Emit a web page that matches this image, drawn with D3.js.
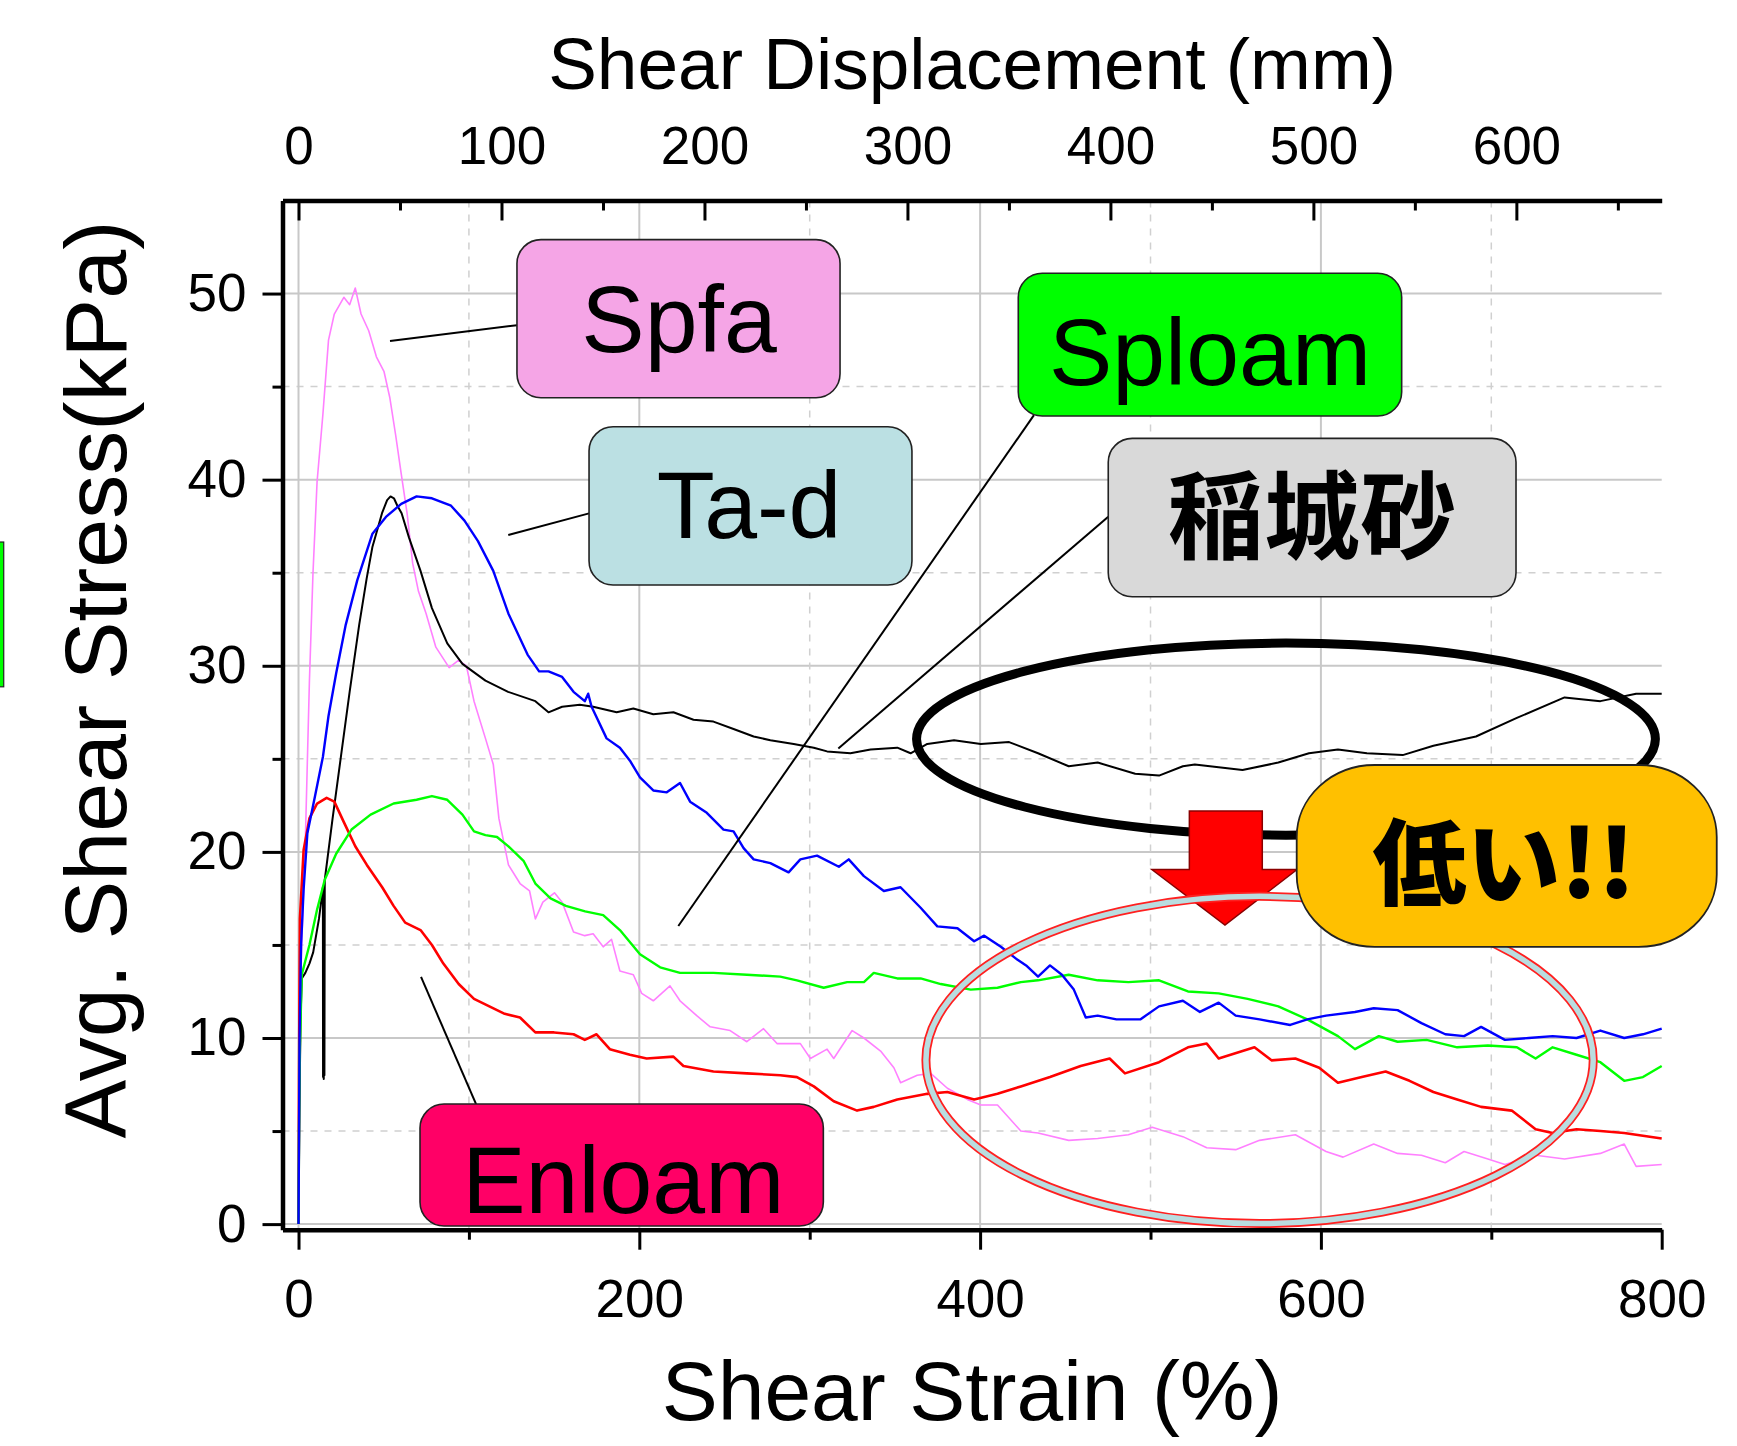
<!DOCTYPE html>
<html lang="ja">
<head>
<meta charset="UTF-8">
<title>Avg. Shear Stress vs Shear Strain</title>
<script src="https://cdnjs.cloudflare.com/ajax/libs/d3/7.8.5/d3.min.js"></script>
<style>
    body { margin: 0; background: #fff; }
    svg { display: block; font-family: "Liberation Sans", Arial, sans-serif; }
    .grid-major { stroke: #c8c8c8; stroke-width: 2; }
    .grid-minor { stroke: #d0d0d0; stroke-width: 1.5; stroke-dasharray: 7 7; }
    .axis path.domain { stroke: #000; stroke-width: 4.5; }
    .axis line { stroke: #000; stroke-width: 3; }
    .axis text { font-size: 53px; fill: #000; font-family: "Liberation Sans", Arial, sans-serif; }
    .series { fill: none; stroke-linejoin: round; }
    .box rect { stroke: #222; stroke-width: 1.6; }
    .box text { font-size: 95px; text-anchor: middle; fill: #000; }
    .leader { stroke: #000; stroke-width: 2; }
    .title { fill: #000; text-anchor: middle; }
</style>
</head>
<body>
<div id="chart"></div>
<script>
// ---- data: [shear strain (%), avg. shear stress (kPa)] ----
const inagiSand = [
    [0, 0], [0.5, 6], [1.2, 11], [1.9, 13.2], [4, 13.5], [6.4, 14.0], [8.6, 14.6], [12, 16.4],
    [14.3, 18.1], [14.4, 7.9], [14.6, 18.0], [14.8, 7.8], [15.0, 18.2], [15.2, 8.0], [15.4, 18.5],
    [20, 21.8], [25, 25.2], [30, 28.6], [35.6, 32.2], [40, 34.7], [43.4, 36.4], [49, 38.2],
    [52, 38.9], [54, 39.1], [56, 39.0], [58, 38.6], [60.5, 38.2], [64.8, 36.9], [71.6, 35.1],
    [78.3, 33.1], [87.3, 31.2], [96.2, 30.1], [109.7, 29.2], [123, 28.6], [139, 28.1],
    [146.7, 27.5], [154.7, 27.8], [165.1, 27.9], [172.9, 27.8], [186.7, 27.5], [196.5, 27.7],
    [208.2, 27.4], [220, 27.5], [231.8, 27.1], [243.5, 27.0], [255.3, 26.6], [267.1, 26.2],
    [276.9, 26.0], [290.6, 25.8], [302.4, 25.6], [310.2, 25.4], [323.9, 25.3], [335.7, 25.5],
    [351.4, 25.6], [359.2, 25.3], [369, 25.8], [384.7, 26.0], [400.4, 25.8], [417, 25.9],
    [434, 25.3], [452, 24.6], [469, 24.8], [491, 24.2], [505, 24.1], [519, 24.6], [526, 24.7],
    [554, 24.4], [575, 24.8], [593, 25.3], [610, 25.5], [627, 25.3], [648, 25.2], [666, 25.7],
    [691, 26.2], [715, 27.2], [743, 28.3], [764, 28.1], [785, 28.5], [800, 28.5]
];
const taD = [
    [0, 0], [0.6, 10], [1.5, 15], [3, 18], [5.2, 21.0], [9.7, 23.0], [14.3, 25.1], [17.6, 27.3],
    [22.1, 29.6], [27.7, 32.2], [34.5, 34.6], [43.4, 37.1], [51.3, 38.0], [60.3, 38.7],
    [69.3, 39.1], [78.3, 39.0], [89.5, 38.6], [97.4, 37.8], [105.3, 36.7], [114.3, 35.1],
    [123.2, 32.8], [134.4, 30.6], [141.2, 29.7], [146.7, 29.7], [154.7, 29.4], [161.4, 28.6],
    [168, 28.1], [170, 28.5], [172, 27.8], [180.8, 26.1], [188.6, 25.6], [194.5, 24.9],
    [200.4, 24.0], [208.2, 23.3], [216.1, 23.2], [223.9, 23.7], [229.8, 22.7], [239.6, 22.1],
    [249.4, 21.2], [255.3, 21.1], [261.2, 20.2], [267.1, 19.6], [276.9, 19.4], [287.6, 18.9],
    [294.5, 19.6], [304.3, 19.8], [317.1, 19.2], [322.9, 19.6], [331.8, 18.7], [343.5, 17.9],
    [353.3, 18.1], [365.1, 17.0], [374.9, 16.0], [386.7, 15.9], [396.5, 15.2], [402.4, 15.5],
    [412.2, 14.9], [422, 14.2], [427, 13.9], [434, 13.3], [441, 13.9], [448, 13.4], [455, 12.6],
    [462, 11.1], [469, 11.2], [480, 11.0], [494, 11.0], [505, 11.7], [519, 12.0], [529, 11.4],
    [540, 11.9], [550, 11.2], [564, 11.0], [582, 10.7], [592, 11.0], [603, 11.2], [620, 11.4],
    [631, 11.6], [645, 11.5], [659, 10.8], [673, 10.2], [684, 10.1], [694, 10.6], [708, 9.9],
    [722, 10.0], [736, 10.1], [750, 10.0], [764, 10.4], [778, 10.0], [789, 10.2], [800, 10.5]
];
const sploam = [
    [0, 0], [0.3, 5], [0.8, 9.5], [1.9, 13.4], [6.4, 15.0], [10.9, 16.9], [15.4, 18.5],
    [22.1, 19.9], [31.1, 21.2], [42.3, 22.0], [55.8, 22.6], [69.3, 22.8], [78.3, 23.0],
    [87.3, 22.8], [96.2, 22.0], [103, 21.1], [109.7, 20.9], [116.5, 20.8], [123.2, 20.3],
    [132.2, 19.5], [139, 18.3], [147.9, 17.5], [156.9, 17.1], [168.2, 16.8], [178.8, 16.6],
    [188.6, 15.8], [200.4, 14.5], [212.2, 13.8], [223.9, 13.5], [243.5, 13.5], [263.1, 13.4],
    [282.7, 13.3], [292.5, 13.1], [308.2, 12.7], [322, 13.0], [331.8, 13.0], [337.6, 13.5],
    [351.4, 13.2], [365.1, 13.2], [376.9, 12.9], [394.5, 12.6], [410.2, 12.7], [423.9, 13.0],
    [434, 13.1], [452, 13.4], [469, 13.1], [487, 13.0], [505, 13.1], [522, 12.5], [540, 12.4],
    [557, 12.1], [575, 11.7], [592, 11.0], [610, 10.1], [620, 9.4], [634, 10.1], [645, 9.8],
    [662, 9.9], [680, 9.5], [698, 9.6], [715, 9.5], [726, 8.9], [736, 9.5], [750, 9.1],
    [764, 8.7], [778, 7.7], [789, 7.9], [800, 8.5]
];
const spfa = [
    [0, 0], [0.5, 8], [1.5, 14], [3, 18], [4, 20.6], [6.4, 29.2], [8.5, 35], [10.9, 39.9],
    [14.3, 43.5], [17.6, 47.5], [21, 48.9], [26.6, 49.8], [30, 49.4], [33.3, 50.3], [36.7, 48.9],
    [41.2, 48.0], [45.7, 46.6], [50.2, 45.8], [53.6, 44.4], [57, 42.4], [60.3, 40.3], [63.7, 38.2],
    [67, 35.5], [70.4, 34.0], [74.9, 32.8], [80.6, 31.0], [88.4, 29.9], [94, 30.3], [98.5, 30.0],
    [103, 28.1], [109.7, 26.1], [114.3, 24.7], [117.6, 21.8], [123.2, 19.3], [130, 18.3],
    [135.6, 17.9], [139, 16.4], [143.4, 17.3], [150.2, 17.8], [154.7, 17.3], [161.4, 15.7],
    [168, 15.5], [172.9, 15.6], [178.8, 14.9], [183.7, 15.3], [188.6, 13.6], [196.5, 13.4],
    [201.4, 12.4], [208.2, 12.0], [218, 12.8], [223.9, 12.0], [233.7, 11.2], [241.6, 10.6],
    [253.3, 10.4], [263.1, 9.8], [272.9, 10.5], [280.8, 9.7], [294.5, 9.7], [300.4, 8.9],
    [310.2, 9.4], [314.1, 8.9], [324.9, 10.4], [331.8, 10.0], [341.6, 9.3], [349.4, 8.4],
    [353.3, 7.6], [363.1, 8.0], [371, 8.1], [380.8, 7.3], [392.5, 6.7], [400.4, 6.4], [410.2, 6.4],
    [423.9, 5.0], [434, 4.9], [452, 4.5], [469, 4.6], [487, 4.8], [501, 5.2], [519, 4.7],
    [533, 4.1], [550, 4.0], [564, 4.5], [585, 4.8], [603, 3.9], [613, 3.6], [631, 4.3],
    [645, 3.8], [659, 3.7], [673, 3.3], [684, 3.9], [698, 3.5], [708, 3.2], [726, 3.7],
    [743, 3.5], [764, 3.8], [778, 4.3], [785, 3.1], [800, 3.2]
];
const enloam = [
    [0, 0], [0.3, 8], [0.8, 16.4], [3, 20.1], [6.4, 21.8], [10.9, 22.6], [16.5, 22.9], [21, 22.7],
    [26.6, 21.6], [33.3, 20.3], [40.1, 19.3], [49.1, 18.1], [55.8, 17.1], [62.6, 16.2],
    [71.6, 15.8], [78.3, 15.0], [85, 14.0], [94, 12.9], [103, 12.1], [112, 11.7], [121, 11.3],
    [130, 11.1], [139, 10.3], [150, 10.3], [161.4, 10.2], [168, 9.9], [174.9, 10.2], [182.7, 9.4],
    [194.5, 9.1], [204.3, 8.9], [220, 9.0], [225.9, 8.5], [243.5, 8.2], [263.1, 8.1],
    [282.7, 8.0], [292.5, 7.9], [302.4, 7.4], [314.1, 6.6], [327.8, 6.1], [337.6, 6.3],
    [351.4, 6.7], [369, 7.0], [380.8, 7.1], [396.5, 6.7], [410.2, 7.0], [423.9, 7.4], [441, 7.9],
    [459, 8.5], [476, 8.9], [485, 8.1], [505, 8.7], [522, 9.5], [533, 9.7], [540, 8.9],
    [561, 9.5], [571, 8.8], [585, 8.9], [599, 8.4], [610, 7.6], [624, 7.9], [638, 8.2],
    [652, 7.7], [666, 7.1], [680, 6.7], [694, 6.3], [712, 6.1], [726, 5.1], [736, 4.9],
    [750, 5.1], [764, 5.0], [778, 4.9], [800, 4.6]
];

const series = [
    { name: "Spfa", data: spfa, color: "#ff80ff", width: 1.6 },
    { name: "稲城砂", data: inagiSand, color: "#000000", width: 2 },
    { name: "Enloam", data: enloam, color: "#ff0000", width: 2.6 },
    { name: "Sploam", data: sploam, color: "#00ff00", width: 2.4 },
    { name: "Ta-d", data: taD, color: "#0000ff", width: 2.4 }
];

// ticks
const strainMajor = [0, 200, 400, 600, 800];
const strainMinor = [100, 300, 500, 700];
const dispMajor = [0, 100, 200, 300, 400, 500, 600];
const dispMinor = [50, 150, 250, 350, 450, 550, 650];
const stressMajor = [0, 10, 20, 30, 40, 50];
const stressMinor = [5, 15, 25, 35, 45];
const mmPerPercent = 0.8395;

// ---- setup ----
const W = 1737, H = 1446;
const plotL = 282.5, plotR = 1661.7, plotT = 200.5, plotB = 1229.7;

const svg = d3.select("#chart").append("svg")
    .attr("width", W).attr("height", H);
svg.append("rect").attr("width", W).attr("height", H).attr("fill", "#fff");

const x = d3.scaleLinear().domain([-9.4, 800]).range([plotL, plotR]);
const xTop = d3.scaleLinear().domain([-9.4 * mmPerPercent, 800 * mmPerPercent]).range([plotL, plotR]);
const y = d3.scaleLinear().domain([-0.3, 55]).range([plotB, plotT]);

// grid
const grid = svg.append("g");
grid.selectAll(".gy").data(stressMajor).join("line")
    .attr("class", "grid-major")
    .attr("x1", plotL).attr("x2", plotR).attr("y1", d => y(d)).attr("y2", d => y(d));
grid.selectAll(".gym").data(stressMinor).join("line")
    .attr("class", "grid-minor")
    .attr("x1", plotL).attr("x2", plotR).attr("y1", d => y(d)).attr("y2", d => y(d));
grid.selectAll(".gx").data(strainMajor.slice(0, -1)).join("line")
    .attr("class", "grid-major")
    .attr("y1", plotT).attr("y2", plotB).attr("x1", d => x(d)).attr("x2", d => x(d));
grid.selectAll(".gxm").data(strainMinor).join("line")
    .attr("class", "grid-minor")
    .attr("y1", plotT).attr("y2", plotB).attr("x1", d => x(d)).attr("x2", d => x(d));

// curves
const line = d3.line().x(d => x(d[0])).y(d => y(d[1]));
svg.append("g").selectAll("path").data(series).join("path")
    .attr("class", "series")
    .attr("d", d => line(d.data))
    .attr("stroke", d => d.color)
    .attr("stroke-width", d => d.width);

// axes
function minorAxis(g) {
    g.select(".domain").remove();
    g.selectAll("text").remove();
}
svg.append("g").attr("class", "axis").attr("transform", `translate(0,${plotB})`)
    .call(d3.axisBottom(x).tickValues(strainMinor).tickSizeInner(10).tickSizeOuter(0))
    .call(minorAxis);
svg.append("g").attr("class", "axis").attr("transform", `translate(0,${plotB})`)
    .call(d3.axisBottom(x).tickValues(strainMajor).tickSizeInner(20).tickSizeOuter(0).tickPadding(30));

svg.append("g").attr("class", "axis").attr("transform", `translate(0,${plotT})`)
    .call(d3.axisTop(xTop).tickValues(dispMinor).tickSizeInner(-10).tickSizeOuter(0))
    .call(minorAxis);
svg.append("g").attr("class", "axis").attr("transform", `translate(0,${plotT})`)
    .call(d3.axisTop(xTop).tickValues(dispMajor).tickSizeInner(-20).tickSizeOuter(0).tickPadding(37));

svg.append("g").attr("class", "axis").attr("transform", `translate(${plotL},0)`)
    .call(d3.axisLeft(y).tickValues(stressMinor).tickSizeInner(10).tickSizeOuter(0))
    .call(minorAxis);
svg.append("g").attr("class", "axis").attr("transform", `translate(${plotL},0)`)
    .call(d3.axisLeft(y).tickValues(stressMajor).tickSizeInner(20).tickSizeOuter(0).tickPadding(16));

// axis titles
svg.append("text").attr("class", "title")
    .attr("x", (plotL + plotR) / 2).attr("y", 89)
    .attr("font-size", 73)
    .text("Shear Displacement (mm)");
svg.append("text").attr("class", "title")
    .attr("x", (plotL + plotR) / 2).attr("y", 1420)
    .attr("font-size", 84)
    .text("Shear Strain (%)");
svg.append("text").attr("class", "title")
    .attr("transform", "translate(126,679.5) rotate(-90)")
    .attr("font-size", 88)
    .text("Avg. Shear Stress(kPa)");

// ---- annotations (placed in data units) ----
const ann = svg.append("g");

// stray green rectangle at the left edge
ann.append("rect")
    .attr("x", x(-181)).attr("y", y(36.65))
    .attr("width", x(-173) - x(-181)).attr("height", y(28.87) - y(36.65))
    .attr("fill", "#00ff00").attr("stroke", "#222").attr("stroke-width", 1.2);

// black ellipse around Inagi sand residual
ann.append("ellipse")
    .attr("cx", x(579.5)).attr("cy", y(26.06))
    .attr("rx", x(579.5 + 216.8) - x(579.5)).attr("ry", y(26.06 - 5.16) - y(26.06))
    .attr("fill", "none").attr("stroke", "#000").attr("stroke-width", 9);

// leader lines
const leaders = [
    [[53.7, 47.45], [128.2, 48.3]],
    [[123.1, 37.03], [170.5, 38.19]],
    [[222.9, 16.02], [431.6, 43.47]],
    [[316.8, 25.56], [475.2, 38.01]],
    [[71.9, 13.28], [104.2, 6.45]]
];
ann.selectAll(".leader").data(leaders).join("line")
    .attr("class", "leader")
    .attr("x1", d => x(d[0][0])).attr("y1", d => y(d[0][1]))
    .attr("x2", d => x(d[1][0])).attr("y2", d => y(d[1][1]));

// label boxes
const boxes = [
    { text: "Spfa", x0: 128.2, x1: 317.8, y0: 52.9, y1: 44.4, tx: 223.3, ty: 46.87, fill: "#f5a5e6" },
    { text: "Ta-d", x0: 170.5, x1: 360.0, y0: 42.84, y1: 34.34, tx: 264.4, ty: 36.85, fill: "#bbe0e3" },
    { text: "Sploam", x0: 422.4, x1: 647.4, y0: 51.09, y1: 43.42, tx: 534.9, ty: 45.08, fill: "#00ff00" },
    { text: "稲城砂", x0: 475.2, x1: 714.5, y0: 42.22, y1: 33.71, tx: 594.8, ty: 36.17, fill: "#d9d9d9", cjk: true },
    { text: "Enloam", x0: 71.3, x1: 308.0, y0: 6.45, y1: -0.1, tx: 190.6, ty: 0.58, fill: "#ff0066" }
];
const bg = ann.selectAll(".box").data(boxes).join("g").attr("class", "box");
bg.append("rect")
    .attr("x", d => x(d.x0)).attr("y", d => y(d.y0))
    .attr("width", d => x(d.x1) - x(d.x0)).attr("height", d => y(d.y1) - y(d.y0))
    .attr("rx", 24).attr("fill", d => d.fill);
bg.append("text")
    .attr("x", d => x(d.tx)).attr("y", d => y(d.ty))
    .style("font-family", d => d.cjk ? '"Noto Sans CJK JP", sans-serif' : null)
    .style("font-weight", d => d.cjk ? 700 : null)
    .style("font-size", d => d.cjk ? "96px" : null)
    .text(d => d.text);

// red arrow
const arrow = [[522.8, 22.2], [565.6, 22.2], [565.6, 19.05], [586.0, 19.05], [543.7, 16.07],
               [500.8, 19.05], [522.8, 19.05]];
ann.append("path")
    .attr("d", d3.line().x(d => x(d[0])).y(d => y(d[1]))(arrow) + "Z")
    .attr("fill", "#ff0000").attr("stroke", "#8a0000").attr("stroke-width", 1.5);

// red / light-blue ellipse around the low residual strengths
const ec = [564.0, 8.82], erx = 195.8, ery = 8.79;
ann.append("ellipse")
    .attr("cx", x(ec[0])).attr("cy", y(ec[1]))
    .attr("rx", x(ec[0] + erx) - x(ec[0])).attr("ry", y(ec[1] - ery) - y(ec[1]))
    .attr("fill", "none").attr("stroke", "#ff2020").attr("stroke-width", 9);
ann.append("ellipse")
    .attr("cx", x(ec[0])).attr("cy", y(ec[1]))
    .attr("rx", x(ec[0] + erx) - x(ec[0])).attr("ry", y(ec[1] - ery) - y(ec[1]))
    .attr("fill", "none").attr("stroke", "#b9dde0").attr("stroke-width", 5.5);

// orange call-out
ann.append("rect")
    .attr("x", x(585.8)).attr("y", y(24.67))
    .attr("width", x(832.3) - x(585.8)).attr("height", y(14.9) - y(24.67))
    .attr("rx", 78).attr("ry", 72)
    .attr("fill", "#ffc000").attr("stroke", "#222").attr("stroke-width", 1.8);
ann.append("text")
    .attr("x", x(707.4)).attr("y", y(17.5))
    .attr("text-anchor", "middle")
    .style("font-family", '"Noto Sans CJK JP", sans-serif')
    .style("font-weight", 900)
    .style("font-size", "94px")
    .text("低い!!");
</script>
</body>
</html>
